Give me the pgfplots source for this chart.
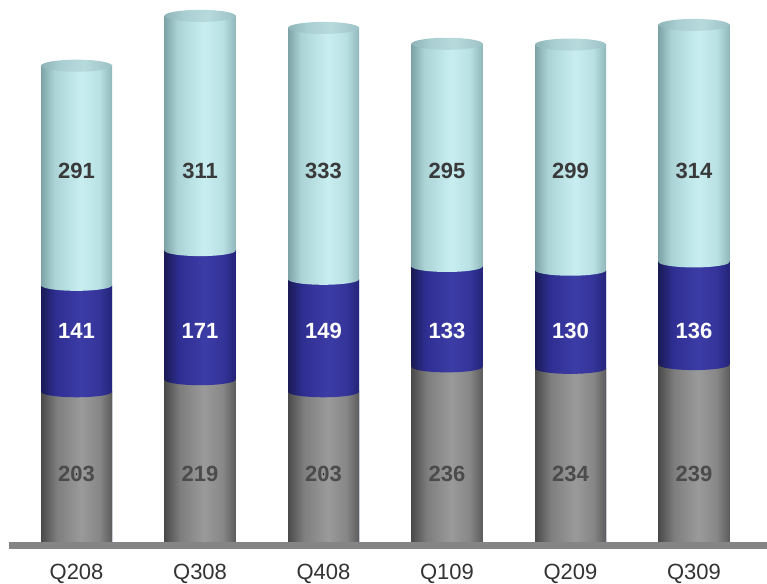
\documentclass[border=0pt]{standalone}
\usepackage{pgfplots}
\pgfplotsset{compat=1.18}
\usepackage{pgfplotstable}
\usepackage{fontspec}
\setmainfont{Liberation Sans}

% quarterly segments: bottom (gray), middle (blue), top (light cyan)
\pgfplotstableread{
x q    gray blue cyan
0 Q208 203  141  291
1 Q308 219  171  311
2 Q408 203  149  333
3 Q109 236  133  295
4 Q209 234  130  299
5 Q309 239  136  314
}\datatable

% cylinder body colours, left edge -> highlight -> right edge
\definecolor{cyA}{HTML}{7DA3A6}
\definecolor{cyB}{HTML}{ABD3D6}
\definecolor{cyC}{HTML}{C8EEF1}
\definecolor{cyD}{HTML}{B9E0E3}
\definecolor{cyE}{HTML}{90B7BA}
\definecolor{caA}{HTML}{8FB4B7}
\definecolor{caB}{HTML}{A9CED1}
\definecolor{caC}{HTML}{B7DADD}
\definecolor{caE}{HTML}{9DC2C5}
\definecolor{blA}{HTML}{1A1A55}
\definecolor{blB}{HTML}{2E2E92}
\definecolor{blC}{HTML}{3C3CA6}
\definecolor{blD}{HTML}{34349A}
\definecolor{blE}{HTML}{24247A}
\definecolor{grA}{HTML}{4A4A4A}
\definecolor{grB}{HTML}{7E7E7E}
\definecolor{grC}{HTML}{9A9A9A}
\definecolor{grD}{HTML}{878787}
\definecolor{grE}{HTML}{5C5C5C}
\definecolor{bandgray}{HTML}{858585}
\definecolor{ticktext}{HTML}{333333}
\definecolor{toptext}{HTML}{3A3A3A}
\definecolor{bottext}{HTML}{4B4B4B}

\pgfdeclarehorizontalshading{cyanbody}{100bp}{color(0bp)=(cyA); color(25bp)=(cyA); color(34bp)=(cyB); color(53bp)=(cyC); color(66bp)=(cyD); color(75bp)=(cyE); color(100bp)=(cyE)}
\pgfdeclarehorizontalshading{capbody}{100bp}{color(0bp)=(caA); color(25bp)=(caA); color(38bp)=(caB); color(55bp)=(caC); color(75bp)=(caE); color(100bp)=(caE)}
\pgfdeclarehorizontalshading{bluebody}{100bp}{color(0bp)=(blA); color(25bp)=(blA); color(35bp)=(blB); color(53bp)=(blC); color(66bp)=(blD); color(75bp)=(blE); color(100bp)=(blE)}
\pgfdeclarehorizontalshading{graybody}{100bp}{color(0bp)=(grA); color(25bp)=(grA); color(36bp)=(grB); color(53bp)=(grC); color(66bp)=(grD); color(75bp)=(grE); color(100bp)=(grE)}

% elliptical rims drawn at the top of each segment, shaded like the segment above
\pgfdeclareplotmark{rimblue}{\pgfpathellipse{\pgfpointorigin}{\pgfqpoint{35.5pt}{0pt}}{\pgfqpoint{0pt}{5.5pt}}\pgfshadepath{bluebody}{0}\pgfusepath{}}
\pgfdeclareplotmark{rimcyan}{\pgfpathellipse{\pgfpointorigin}{\pgfqpoint{35.5pt}{0pt}}{\pgfqpoint{0pt}{5.5pt}}\pgfshadepath{cyanbody}{0}\pgfusepath{}}
\pgfdeclareplotmark{rimcap}{\pgfpathellipse{\pgfpointorigin}{\pgfqpoint{35.5pt}{0pt}}{\pgfqpoint{0pt}{6pt}}\pgfshadepath{capbody}{0}\pgfusepath{}}

\pgfplotsset{
  frame/.style={
    width=758pt, height=545pt, scale only axis,
    xmin=-0.547, xmax=5.591, ymin=0, ymax=722,
    clip=false,
  },
  % one cylinder piece per quarter, so each bar gets its own shading
  piece/.style n args={3}{
    ybar, bar width=71pt, bar shift=0pt, draw=none,
    shade, shading=#1, mark=#2,
    restrict x to domain=#3:#3,
  },
  vallabel/.style={
    only marks, mark=*, mark size=0.5pt, mark options={draw=none, fill=none},
    nodes near coords={\textbf{\pgfplotspointmeta}}, point meta=explicit symbolic,
    every node near coord/.append style={anchor=center, font=\fontsize{22}{22}\selectfont, text=#1},
  },
}

\begin{document}
\begin{tikzpicture}
\begin{axis}[
  frame,
  axis on top,
  axis x line=bottom, hide y axis,
  x axis line style={-, line width=7pt, draw=bandgray},
  xtick={0,...,5}, xticklabels from table={\datatable}{q},
  major tick length=0pt,
  xticklabel style={anchor=base, yshift=-34pt, font=\fontsize{22}{26}\selectfont, text=ticktext},
]
% full stack height (top segment shows above the others)
\pgfplotsinvokeforeach{0,...,5}{
  \addplot[piece={cyanbody}{rimcap}{#1}]
    table[x=x, y expr=\thisrow{gray}+\thisrow{blue}+\thisrow{cyan}] {\datatable};
}
% bottom + middle
\pgfplotsinvokeforeach{0,...,5}{
  \addplot[piece={bluebody}{rimcyan}{#1}]
    table[x=x, y expr=\thisrow{gray}+\thisrow{blue}] {\datatable};
}
% bottom
\pgfplotsinvokeforeach{0,...,5}{
  \addplot[piece={graybody}{rimblue}{#1}]
    table[x=x, y=gray] {\datatable};
}
\end{axis}

% value labels sit on three fixed rows
\begin{axis}[frame, hide axis]
\addplot[vallabel=toptext] table[x=x, y expr=495, meta=cyan] {\datatable};
\addplot[vallabel=white] table[x=x, y expr=283, meta=blue] {\datatable};
\addplot[vallabel=bottext] table[x=x, y expr=94, meta=gray] {\datatable};
\end{axis}

\pgfresetboundingbox
\path[use as bounding box] ([xshift=-9pt, yshift=-38pt]current axis.south west) rectangle (current axis.north east);
\end{tikzpicture}
\end{document}
